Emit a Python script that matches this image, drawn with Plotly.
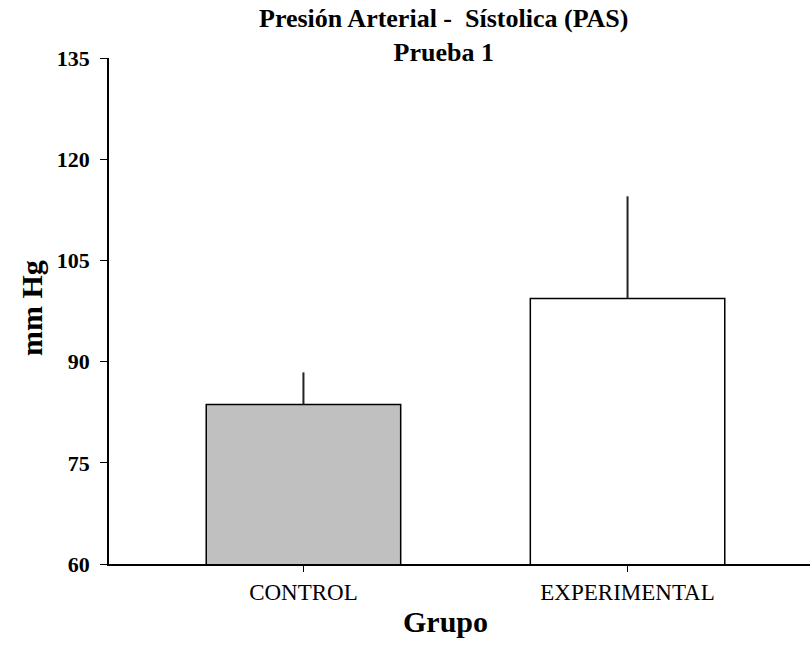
import plotly.graph_objects as go

categories = ["CONTROL", "EXPERIMENTAL"]
means = [83.65, 99.35]
errors = [4.75, 15.15]
colors = ["#c0c0c0", "#ffffff"]
y_ticks = [60, 75, 90, 105, 120, 135]

FONT = "Liberation Serif"
W, H = 810, 645
ml, mr, mt, mb = 109, 0, 58, 81
pw = W - ml - mr
ph = H - mt - mb

def px_to_paper_x(px):
    return (px - ml) / pw

def px_to_paper_y(py):
    return (H - mb - py) / ph

xpos = list(range(len(categories)))

fig = go.Figure()
fig.add_trace(go.Bar(
    x=xpos, y=means, width=0.6,
    marker=dict(color=colors, line=dict(color="black", width=1.5)),
    error_y=dict(type="data", symmetric=False, array=errors,
                 arrayminus=[0] * len(errors), width=0, thickness=2,
                 color="#222222"),
    showlegend=False,
))

fig.update_layout(
    width=W, height=H,
    margin=dict(l=ml, r=mr, t=mt, b=mb, pad=0),
    plot_bgcolor="white", paper_bgcolor="white",
    font=dict(family=FONT, color="black"),
    xaxis=dict(
        range=[-0.6, 1.563], tickmode="array", tickvals=xpos, ticktext=categories,
        showline=True, linecolor="black", linewidth=2,
        ticks="outside", ticklen=6, tickwidth=1, tickcolor="black",
        tickfont=dict(family=FONT, size=23, color="black"),
        showgrid=False, zeroline=False, fixedrange=True,
    ),
    yaxis=dict(
        range=[60, 135], tickmode="array", tickvals=y_ticks,
        showline=True, linecolor="black", linewidth=1.5,
        ticks="outside", ticklen=7, tickwidth=1, tickcolor="black",
        tickfont=dict(family=FONT, size=22, color="black", weight="bold"),
        ticklabelstandoff=6,
        showgrid=False, zeroline=False, fixedrange=True,
    ),
    annotations=[
        dict(text="<b>Presión Arterial -  Sístolica (PAS)</b><br><b>Prueba 1</b>",
             xref="paper", yref="paper",
             x=px_to_paper_x(443), y=px_to_paper_y(35), xanchor="center", yanchor="middle",
             showarrow=False, font=dict(family=FONT, size=26, color="black")),
        dict(text="<b>mm Hg</b>", xref="paper", yref="paper", textangle=-90,
             x=px_to_paper_x(31), y=px_to_paper_y(308), xanchor="center", yanchor="middle",
             showarrow=False, font=dict(family=FONT, size=30, color="black")),
        dict(text="<b>Grupo</b>", xref="paper", yref="paper",
             x=px_to_paper_x(445), y=px_to_paper_y(621), xanchor="center", yanchor="middle",
             showarrow=False, font=dict(family=FONT, size=30, color="black")),
    ],
)

fig.write_html("out.html")
